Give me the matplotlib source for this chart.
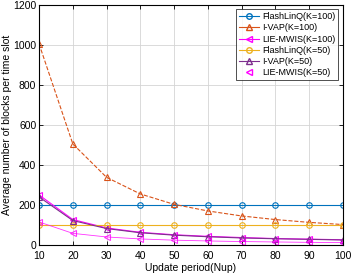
import numpy as np
import matplotlib.pyplot as plt
from matplotlib.lines import Line2D

# data
nup = [10, 20, 30, 40, 50, 60, 70, 80, 90, 100]
flash_100 = [200, 200, 200, 200, 200, 200, 200, 200, 200, 200]
ivap_100 = [1005, 505, 338, 255, 203, 170, 145, 127, 113, 102]
lie_100 = [250, 127, 85, 63, 51, 43, 37, 32, 29, 26]
flash_50 = [100, 100, 100, 100, 100, 100, 100, 100, 100, 100]
ivap_50 = [240, 122, 82, 61, 49, 41, 35, 31, 28, 25]
lie_50 = [115, 58, 40, 30, 24, 20, 17, 15, 13, 12]

c_blue = '#0072BD'
c_orange = '#D95319'
c_mag = '#FF00FF'
c_yel = '#EDB120'
c_purp = '#7E2F8E'

plt.rcParams['font.family'] = ['Liberation Sans', 'DejaVu Sans']
fig = plt.figure(figsize=(3.52, 2.74), dpi=100)
ax = fig.add_axes([0.111, 0.106, 0.863, 0.876])

ms = 4
ax.plot(nup, flash_100, '-o', color=c_blue, lw=0.8, ms=ms, mfc='none', mew=0.8)
ax.plot(nup, ivap_100, '--^', color=c_orange, lw=0.8, ms=ms, mfc='none', mew=0.8)
ax.plot(nup, lie_100, '-<', color=c_mag, lw=0.8, ms=ms, mfc='none', mew=0.8)
ax.plot(nup, flash_50, '-o', color=c_yel, lw=0.8, ms=ms, mfc='none', mew=0.8)
ax.plot(nup, ivap_50, '-^', color=c_purp, lw=0.8, ms=ms, mfc='none', mew=0.8)
ax.plot(nup, lie_50, '-<', color=c_mag, lw=0.6, ms=ms, mfc='none', mew=0.8, alpha=0.8)

handles = [
    Line2D([], [], color=c_blue, ls='-', marker='o', mfc='none', lw=0.8, ms=ms),
    Line2D([], [], color=c_orange, ls='-', marker='^', mfc='none', lw=0.8, ms=ms),
    Line2D([], [], color=c_mag, ls='-', marker='<', mfc='none', lw=0.8, ms=ms),
    Line2D([], [], color=c_yel, ls='-', marker='o', mfc='none', lw=0.8, ms=ms),
    Line2D([], [], color=c_purp, ls='-', marker='^', mfc='none', lw=0.8, ms=ms),
    Line2D([], [], color=c_mag, ls='none', marker='<', mfc='none', lw=0.8, ms=ms),
]
labels = ['FlashLinQ(K=100)', 'I-VAP(K=100)', 'LIE-MWIS(K=100)',
          'FlashLinQ(K=50)', 'I-VAP(K=50)', 'LIE-MWIS(K=50)']
leg = ax.legend(handles, labels, loc='upper right', fontsize=6.5, frameon=True,
                fancybox=False, edgecolor='black', borderaxespad=0.5,
                handlelength=2.2, labelspacing=0.25, borderpad=0.3,
                handletextpad=0.4)
leg.get_frame().set_linewidth(0.6)

ax.set_xlim(10, 100)
ax.set_ylim(0, 1200)
ax.set_xticks(range(10, 101, 10))
ax.set_yticks(range(0, 1201, 200))
ax.grid(True, color='#D5D5D5', lw=0.6)
ax.set_axisbelow(True)
ax.tick_params(direction='in', top=True, right=True, labelsize=7.5, length=3, width=0.6, pad=2)
ax.tick_params(axis='x', pad=4)
for s in ax.spines.values():
    s.set_linewidth(0.8)
ax.set_xlabel('Update period(Nup)', fontsize=7.5, labelpad=2)
ax.set_ylabel('Average number of blocks per time slot', fontsize=7.5, labelpad=1)

fig.savefig('out.png', dpi=100)
